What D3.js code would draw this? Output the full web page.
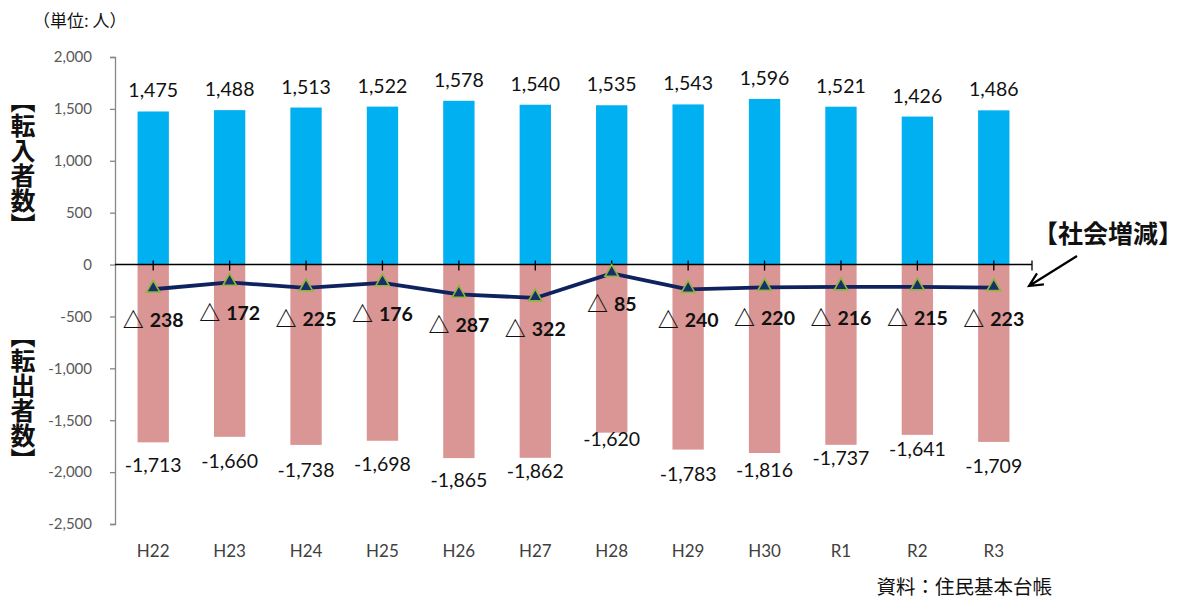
<!DOCTYPE html>
<html>
<head>
<meta charset="utf-8">
<script src="https://cdn.jsdelivr.net/npm/d3@7"></script>
<style>
  body { margin: 0; background: #fff; }
  svg { display: block; }
  .tick-y { font-family: Lato, "Noto Sans", sans-serif; font-size: 15px; fill: #595959; }
  .tick-x { font-family: Lato, "Noto Sans", sans-serif; font-size: 17px; fill: #404040; }
  .lbl { font-family: Lato, "Noto Sans", sans-serif; font-size: 19.5px; fill: #111; }
  .net-lbl { font-family: Lato, "Noto Sans CJK JP", sans-serif; font-size: 19.5px; font-weight: 700; fill: #111; }
  .jp { font-family: "Noto Sans CJK JP", sans-serif; fill: #111; }
</style>
</head>
<body>
<svg id="chart" width="1196" height="599"></svg>
<script>
// data (単位: 人)
const categories = ['H22','H23','H24','H25','H26','H27','H28','H29','H30','R1','R2','R3'];
const inflow  = [1475, 1488, 1513, 1522, 1578, 1540, 1535, 1543, 1596, 1521, 1426, 1486];
const outflow = [-1713, -1660, -1738, -1698, -1865, -1862, -1620, -1783, -1816, -1737, -1641, -1709];
const netChange = [-238, -172, -225, -176, -287, -322, -85, -240, -220, -216, -215, -223];
const yTicks = [-2500, -2000, -1500, -1000, -500, 0, 500, 1000, 1500, 2000];

// hand-placed gap under the outflow bars (labels were dragged in the original)
const outLabelGap = [30, 31, 32, 30, 29, 20, 13, 31, 24, 20, 21, 31];

const svg = d3.select('#chart');
const plot = {l:115, r:1032, t:57, b:524};

const x = d3.scaleBand().domain(categories).range([plot.l, plot.r]).padding(0);
const y = d3.scaleLinear().domain([-2500, 2000]).range([plot.b, plot.t]);
const barW = x.bandwidth() * 0.41;
const cx = d => x(d) + x.bandwidth()/2;
const fmt = v => d3.format(',')(v).replace('−','-');

//Bars
svg.append('g').selectAll('rect.in')
	.data(categories)
	.join('rect')
	.attr('x', d => cx(d) - barW/2)
	.attr('width', barW)
	.attr('y', (d,i) => y(inflow[i]))
	.attr('height', (d,i) => y(0) - y(inflow[i]))
	.style('fill', '#00B0F0');

svg.append('g').selectAll('rect.out')
	.data(categories)
	.join('rect')
	.attr('x', d => cx(d) - barW/2)
	.attr('width', barW)
	.attr('y', y(0))
	.attr('height', (d,i) => y(outflow[i]) - y(0))
	.style('fill', '#DA9694');

//Y axis
const axisY = d3.axisLeft(y).tickValues(yTicks).tickFormat(fmt).tickSize(5).tickPadding(18);
const gy = svg.append('g').attr('transform', `translate(${plot.l},0)`).call(axisY);
gy.select('.domain').attr('stroke', '#868686').attr('stroke-width', 1.3);
gy.selectAll('.tick line').attr('stroke', '#868686').attr('stroke-width', 1.3);
gy.selectAll('.tick text').attr('class', 'tick-y').attr('font-family', null).attr('font-size', null).attr('fill', null);

//Zero line with ticks at category centres
const zero = svg.append('g');
zero.append('line')
	.attr('x1', plot.l).attr('x2', plot.r)
	.attr('y1', y(0)).attr('y2', y(0))
	.style('stroke', '#000').style('stroke-width', 1.5);
zero.selectAll('line.t')
	.data(categories.map(cx).concat([plot.r]))
	.join('line')
	.attr('x1', d => d).attr('x2', d => d)
	.attr('y1', y(0) - 4).attr('y2', y(0) + 6)
	.style('stroke', '#000').style('stroke-width', 1.3);

//X labels
svg.append('g').selectAll('text')
	.data(categories)
	.join('text')
	.attr('class', 'tick-x')
	.attr('x', cx)
	.attr('y', 557)
	.attr('text-anchor', 'middle')
	.text(d => d);

//Net change line
const line = d3.line()
	.x((d,i) => cx(categories[i]))
	.y(d => y(d));
svg.append('path')
	.datum(netChange)
	.attr('d', line)
	.style('fill', 'none')
	.style('stroke', '#0F2260')
	.style('stroke-width', 3.8)
	.style('stroke-linejoin', 'round');

const tri = d3.symbol().type(d3.symbolTriangle).size(78);
svg.append('g').selectAll('path')
	.data(netChange)
	.join('path')
	.attr('d', tri)
	.attr('transform', (d,i) => `translate(${cx(categories[i])},${y(d) - 1})`)
	.style('fill', '#17306B')
	.style('stroke', '#8DB63C')
	.style('stroke-width', 1.6);

//Labels
svg.append('g').selectAll('text')
	.data(inflow)
	.join('text')
	.attr('class', 'lbl')
	.attr('x', (d,i) => cx(categories[i]))
	.attr('y', d => y(d) - 14)
	.attr('text-anchor', 'middle')
	.text(fmt);

svg.append('g').selectAll('text')
	.data(outflow)
	.join('text')
	.attr('class', 'lbl')
	.attr('x', (d,i) => cx(categories[i]))
	.attr('y', (d,i) => y(d) + outLabelGap[i])
	.attr('text-anchor', 'middle')
	.text(fmt);

const netLbl = svg.append('g').selectAll('text')
	.data(netChange)
	.join('text')
	.attr('class', 'net-lbl')
	.attr('x', (d,i) => cx(categories[i]))
	.attr('y', d => y(d) + 38)
	.attr('text-anchor', 'middle');
netLbl.append('tspan').style('font-size', '21px').style('font-weight', 700).text('△');
netLbl.append('tspan').attr('dx', 6).text(d => fmt(Math.abs(d)));

//Annotations
svg.append('text').attr('class', 'jp')
	.attr('x', 33).attr('y', 27)
	.style('font-size', '17px')
	.text('（単位: 人）');

function verticalLabel(txt, top){
	svg.append('text').attr('class', 'jp')
		.attr('x', 23).attr('y', top)
		.style('writing-mode', 'vertical-rl')
		.style('font-size', '25px')
		.style('font-weight', 700)
		.text(txt);
}
verticalLabel('【転入者数】', 88);
verticalLabel('【転出者数】', 323);

svg.append('text').attr('class', 'jp')
	.attr('x', 1108).attr('y', 243)
	.attr('text-anchor', 'middle')
	.style('font-size', '25px')
	.style('font-weight', 700)
	.text('【社会増減】');

// arrow pointing at the line
const a0 = [1077, 256], a1 = [1029, 286];
const ang = Math.atan2(a0[1]-a1[1], a0[0]-a1[0]);
const wing = s => [a1[0] + 15*Math.cos(ang + s), a1[1] + 15*Math.sin(ang + s)];
svg.append('path')
	.attr('d', `M${a0}L${a1}M${wing(0.45)}L${a1}L${wing(-0.45)}`)
	.style('fill', 'none')
	.style('stroke', '#000')
	.style('stroke-width', 2.2);

svg.append('text').attr('class', 'jp')
	.attr('x', 1052).attr('y', 594)
	.attr('text-anchor', 'end')
	.style('font-size', '19.5px')
	.text('資料：住民基本台帳');
</script>
</body>
</html>
